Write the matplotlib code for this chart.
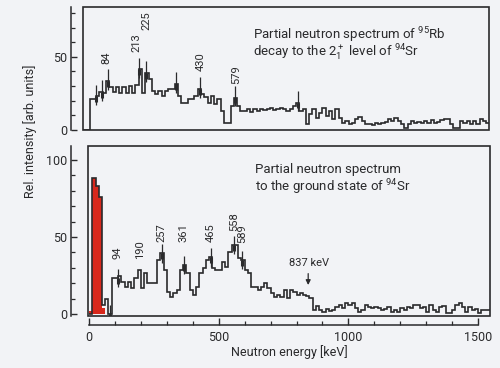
import numpy as np
import matplotlib
matplotlib.use("Agg")
import matplotlib.pyplot as plt
from matplotlib.patches import Rectangle
from matplotlib.ticker import MultipleLocator

plt.rcParams['font.family'] = ['Liberation Sans Narrow', 'Roboto', 'DejaVu Sans']
plt.rcParams['mathtext.default'] = 'regular'

bin_width = 12.5  # keV

# 95Rb -> 2+ level of 94Sr
top_counts = [0, 0, 21.5, 21.5, 23, 26, 25.5, 33.5, 29.7, 26, 29.7, 25, 29.7, 25.5, 30, 25.5,
              31, 41.5, 25.5, 39, 34.7, 26.7, 24.4, 26.7, 23.3, 26.7, 27.9, 27.9, 31.3, 23.3,
              18.7, 18.7, 21, 21.5, 23.3, 27.9, 24.4, 22.8, 18.7, 23.3, 17.6, 21, 13, 5, 5,
              16.4, 22.1, 16.4, 13, 13, 14.2, 12.3, 14.6, 13, 14.6, 13.7, 14.6, 15, 13.7, 14.6,
              15.3, 14.2, 13, 14.2, 16.4, 18.7, 13, 14.2, 3.9, 10.7, 14.2, 8.4, 11.9, 15.3, 9.6,
              13, 7.3, 14.2, 8.4, 5, 6.2, 3.9, 5, 7.3, 9.1, 6.2, 3.9, 3.9, 3.2, 5, 3.9, 5, 5.5,
              7.8, 6.2, 8.4, 6.2, 3.9, 1.6, 3.9, 6.2, 5, 5.5, 4.6, 6.2, 5, 6.8, 5, 5.5, 6.8, 7.3,
              7.3, 3.9, 1.6, 1.6, 6.2, 5, 6.2, 3.9, 6.2, 3.9, 7.3, 6.2, 5]
top_err_E = [50, 72, 95, 215, 240, 355, 445, 580, 820]
top_peaks = ["84", "213", "225", "430", "579"]
top_peak_pos = [(90, 49), (204, 60), (243, 75), (448, 47), (586, 38)]

# ground state of 94Sr
bot_counts = [0, 88, 83, 76, 5.8, 10, 0, 23.2, 23.2, 24.7, 21, 17.7, 21, 16.7, 23.2, 28.6,
              16.7, 26.4, 19.9, 19.9, 19.9, 35, 39.4, 28.6, 14.5, 11.3, 13.4, 15.6, 28.6, 31.8,
              26.4, 15.6, 12.3, 17.7, 26.4, 29.7, 35, 36.8, 29.7, 28.6, 28.6, 34, 30.7, 40.5,
              44.8, 44.8, 36.1, 35, 28.6, 26.4, 17.7, 17.7, 15.6, 17.7, 19.9, 16.7, 13.4, 11.3,
              12.3, 11.3, 15.6, 10.2, 15.6, 14.5, 12.3, 13.4, 12.3, 11.7, 10.2, 2.6, 5.2, 2.6,
              1.5, 3, 2.2, 2.6, 4.3, 5.8, 3.7, 7.4, 5.8, 6.9, 3.7, 1.5, 2.6, 5.8, 4.8, 3.7, 4.8,
              3.7, 2.6, 3, 4.3, 1.5, 2.6, 1.5, 3.7, 2.6, 4.8, 3.7, 5.8, 5.8, 3.7, 4.8, 1.5, 5.8,
              2.6, 1.5, 4.8, 5.2, 0.4, 0.4, 2.6, 5.8, 7.4, 4.8, 1.5, 4.8, 2.6, 3, 0.9, 2.6, 2.6,
              2.6]
red_counts = [2, 88, 83, 76, 4]
bot_err_E = [80, 112, 280, 365, 470, 560, 590]
bot_peaks = ["94", "190", "257", "361", "465", "558", "589"]
bot_peak_pos = [(109, 40), (197, 42), (280, 53), (364, 52.6), (469, 53), (559, 60), (589, 52)]

ink = "#2a2a2c"
bg = "#f2f3f6"

fig = plt.figure(figsize=(5, 3.68), dpi=100, facecolor=bg)
ax1 = fig.add_axes([83 / 500, 1 - 130 / 368, 406 / 500, 123 / 368], facecolor=bg)
ax2 = fig.add_axes([88 / 500, 1 - 316 / 368, 402 / 500, 170 / 368], facecolor=bg)


def frame(ax, outward, show_x):
    for s in ax.spines.values():
        s.set_visible(False)
    ax.spines['left'].set_visible(True)
    ax.spines['left'].set_position(('outward', outward))
    ax.spines['left'].set_color(ink)
    ax.spines['left'].set_linewidth(1.1)
    ax.add_patch(Rectangle((0, 0), 1, 1, transform=ax.transAxes, fill=False,
                           ec=ink, lw=1.2, clip_on=False, zorder=5))
    ax.yaxis.set_major_locator(MultipleLocator(50))
    ax.yaxis.set_minor_locator(MultipleLocator(10))
    ax.tick_params(axis='y', which='both', direction='in', colors=ink, labelsize=9)
    ax.tick_params(axis='y', which='major', length=4, width=1, pad=3)
    ax.tick_params(axis='y', which='minor', length=3, width=0.9)
    if show_x:
        ax.spines['bottom'].set_visible(True)
        ax.spines['bottom'].set_position(('outward', 6.5))
        ax.spines['bottom'].set_bounds(0, 1500)
        ax.spines['bottom'].set_color(ink)
        ax.spines['bottom'].set_linewidth(1.1)
        ax.xaxis.set_major_locator(MultipleLocator(500))
        ax.xaxis.set_minor_locator(MultipleLocator(100))
        ax.tick_params(axis='x', which='both', direction='in', colors=ink, labelsize=9)
        ax.tick_params(axis='x', which='major', length=5, width=1, pad=4)
        ax.tick_params(axis='x', which='minor', length=3, width=0.9)
    else:
        ax.set_xticks([])


def err_bars(ax, counts, energies, up, down):
    for e in energies:
        v = counts[int(e // bin_width)]
        ax.vlines(e, v - down, v + up, color=ink, lw=0.9, zorder=4)
        ax.vlines(e, v - down + 2, v, color=ink, lw=2.2, zorder=4)


# top panel
edges1 = np.arange(len(top_counts) + 1) * bin_width
ax1.stairs(top_counts, edges1, color=ink, lw=1.2)
err_bars(ax1, top_counts, top_err_E, 8, 6)
for lab, (e, v) in zip(top_peaks, top_peak_pos):
    ax1.text(e, v, lab, rotation=90, ha='center', va='center', fontsize=8, color=ink)
ax1.text(648, 65, r"Partial neutron spectrum of $^{95}$Rb", fontsize=9.5, color=ink,
         ha='left', va='center')
ax1.text(648, 52.5, r"decay to the 2$_1^+$ level of $^{94}$Sr", fontsize=9.5, color=ink,
         ha='left', va='center')
ax1.set_xlim(0, 1548)
ax1.set_ylim(0, 84)
frame(ax1, 8.6, False)

# bottom panel
edges2 = np.arange(len(bot_counts) + 1) * bin_width
red_edges = np.arange(len(red_counts) + 1) * bin_width
ax2.stairs(red_counts, red_edges, fill=True, color="#d8281c", zorder=2)
ax2.stairs(bot_counts, edges2, color=ink, lw=1.2, zorder=3)
err_bars(ax2, bot_counts, bot_err_E, 6, 6)
for lab, (e, v) in zip(bot_peaks, bot_peak_pos):
    ax2.text(e, v, lab, rotation=90, ha='center', va='center', fontsize=8, color=ink)
ax2.text(848, 33, "837 keV", ha='center', va='center', fontsize=8, color=ink)
ax2.annotate("", xy=(845, 17), xytext=(845, 28),
             arrowprops=dict(arrowstyle='-|>', lw=0.9, color=ink, mutation_scale=7))
ax2.text(640, 93.5, "Partial neutron spectrum", fontsize=9.5, color=ink, ha='left', va='center')
ax2.text(640, 82.5, r"to the ground state of $^{94}$Sr", fontsize=9.5, color=ink,
         ha='left', va='center')
ax2.set_xlim(-4, 1546)
ax2.set_ylim(-1.3, 109)
frame(ax2, 12.2, True)
ax2.set_xlabel("Neutron energy [keV]", fontsize=9, color=ink, labelpad=1)

fig.text(30 / 500, 1 - 131 / 368, "Rel. intensity [arb. units]", rotation=90,
         ha='center', va='center', fontsize=9, color=ink)

fig.savefig("out.png", dpi=100, facecolor=bg)
